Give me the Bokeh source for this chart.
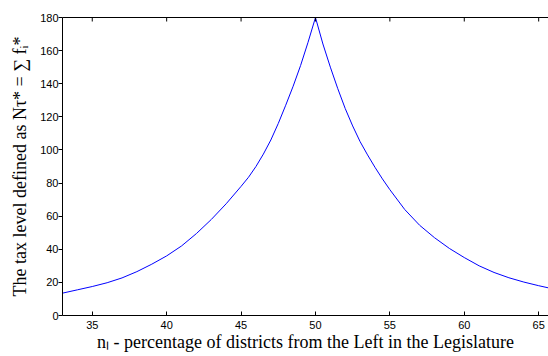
import math
from bokeh.plotting import figure
from bokeh.models import LinearAxis, Range1d, FixedTicker, ColumnDataSource
from bokeh.embed import file_html
from bokeh.resources import INLINE

# share of districts from the Left (%)
n_left = [33, 34, 35, 36, 37, 38, 39, 40, 41, 42, 43, 44, 45, 45.5, 46, 46.5, 47, 47.5, 48, 48.5, 49, 49.5, 50,
          50.5, 51, 51.5, 52, 52.5, 53, 53.5, 54, 54.5, 55, 56, 57, 58, 59, 60, 61, 62, 63, 64, 65, 66]
# tax level N tau* = sum f_i*
tax_level = [13.5, 15.5, 17.5, 19.8, 22.7, 26.5, 31, 36, 42, 49.5, 58, 67.5, 78, 83.5, 90, 97.5, 106, 116,
             127, 138.5, 151, 165, 180,
             164, 150, 137, 125, 114.5, 105, 97, 89.5, 82.5, 76, 64, 54.5, 47, 40.5, 35, 30, 26, 22.8, 20.2,
             18, 16]
x_ticks = [35, 40, 45, 50, 55, 60, 65]
y_ticks = [0, 20, 40, 60, 80, 100, 120, 140, 160, 180]

src = ColumnDataSource(data=dict(x=n_left, y=tax_level))

p = figure(width=548, height=356, x_range=Range1d(33, 65.66), y_range=Range1d(0, 180),
           output_backend="svg", toolbar_location=None,
           min_border_left=62, min_border_right=0, min_border_top=17, min_border_bottom=41,
           x_axis_label="nₗ - percentage of districts from the Left in the Legislature",
           y_axis_label="The tax level defined as Nτ* = ∑ fᵢ*")
p.outline_line_color = None
p.grid.visible = False
p.background_fill_color = "white"
p.border_fill_color = "white"

p.line("x", "y", source=src, line_color="#0000ff", line_width=1)

# inward tick marks along the top border of the box
p.scatter(x=x_ticks, y=[180] * len(x_ticks), marker="dash", angle=math.pi / 2, size=8,
          line_color="black", line_width=1)

for ax in p.xaxis:
    ax.ticker = FixedTicker(ticks=x_ticks)
    ax.major_tick_in = 4
    ax.major_tick_out = 0
    ax.minor_tick_in = 0
    ax.minor_tick_out = 0
    ax.major_label_standoff = 5
    ax.major_label_text_font = "Liberation Sans"
    ax.major_label_text_font_size = "11px"
    ax.major_label_text_color = "black"
    ax.major_label_text_line_height = 1.0
    ax.axis_label_standoff = 0
    ax.axis_label_text_font = "Liberation Serif"
    ax.axis_label_text_font_style = "normal"
    ax.axis_label_text_font_size = "18px"
    ax.axis_label_text_line_height = 1.0
    ax.axis_label_text_color = "black"
    ax.axis_line_color = "black"
    ax.major_tick_line_color = "black"

for ax in p.yaxis:
    ax.ticker = FixedTicker(ticks=y_ticks)
    ax.major_tick_in = 0
    ax.major_tick_out = 4
    ax.minor_tick_in = 0
    ax.minor_tick_out = 0
    ax.major_label_standoff = 0
    ax.major_label_text_font = "Liberation Sans"
    ax.major_label_text_font_size = "11px"
    ax.major_label_text_color = "black"
    ax.axis_label_standoff = 7
    ax.axis_label_text_font = "Liberation Serif"
    ax.axis_label_text_font_style = "normal"
    ax.axis_label_text_font_size = "18px"
    ax.axis_label_text_color = "black"
    ax.axis_line_color = "black"
    ax.major_tick_line_color = "black"

# top border line of the box (no ticks/labels of its own)
top = LinearAxis(ticker=FixedTicker(ticks=[]), major_tick_in=0, major_tick_out=0,
                 minor_tick_in=0, minor_tick_out=0, axis_line_color="black")
p.add_layout(top, "above")

open("out.html", "w").write(file_html(p, INLINE))
